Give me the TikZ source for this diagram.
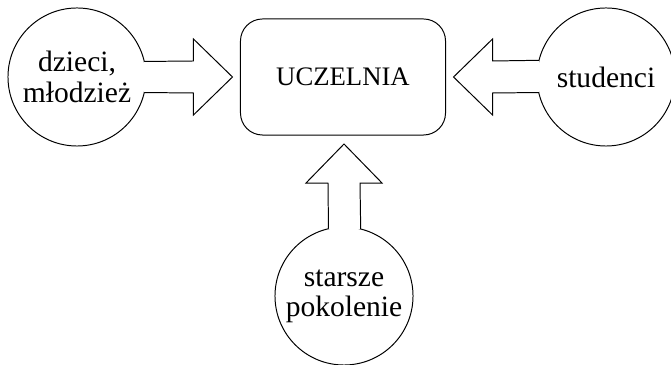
\documentclass[tikz,border=0pt]{standalone}
\usepackage{fontspec}
\setmainfont{Liberation Serif}
\usetikzlibrary{calc}
\def\headlen{39}
\def\headhalf{38}
\def\shafthalf{16}

\tikzset{
  every picture/.style={line width=.7pt},
  group/.style={draw, circle, minimum size=3.45cm, inner sep=0pt, outer sep=0pt,
    align=center, font=\fontsize{21}{21.5}\selectfont},
  school/.style={draw, rounded corners=.55cm, minimum width=5.125cm,
    minimum height=2.9cm, inner sep=0pt, outer sep=0pt,
    font=\fontsize{19}{21}\selectfont},
  blockarrow/.style={draw, fill=white, line join=miter}
}

\begin{document}
\begin{tikzpicture}[x=.025cm,y=-.025cm]
  \useasboundingbox (0,0) rectangle (671,365);

  \node[school] (uni) at (343,77) {UCZELNIA};
  \node[group] (kids) at (77,77) {dzieci,\\młodzież};
  \node[group] (stud) at (606,77) {studenci};
  \node[group] (old) at (344,296) {starsze\\pokolenie};

  \coordinate (tipL) at ($(uni.west)+(-8,0)$);
  \coordinate (tipR) at ($(uni.east)+(8,0)$);
  \coordinate (tipB) at ($(old.center |- uni.south)+(0,9)$);

  % left: dzieci -> uczelnia
  \path[blockarrow] (kids.13.4)
    -- ($(tipL)+(-\headlen,-\shafthalf)$) -- ($(tipL)+(-\headlen,-\headhalf)$)
    -- (tipL)
    -- ($(tipL)+(-\headlen,\headhalf)$) -- ($(tipL)+(-\headlen,\shafthalf)$)
    -- (kids.-13.4);
  % right: studenci -> uczelnia
  \path[blockarrow] (stud.166.6)
    -- ($(tipR)+(\headlen,-\shafthalf)$) -- ($(tipR)+(\headlen,-\headhalf)$)
    -- (tipR)
    -- ($(tipR)+(\headlen,\headhalf)$) -- ($(tipR)+(\headlen,\shafthalf)$)
    -- (stud.193.4);
  % bottom: starsze pokolenie -> uczelnia
  \path[blockarrow] (old.103.4)
    -- ($(tipB)+(-\shafthalf,\headlen)$) -- ($(tipB)+(-\headhalf,\headlen)$)
    -- (tipB)
    -- ($(tipB)+(\headhalf,\headlen)$) -- ($(tipB)+(\shafthalf,\headlen)$)
    -- (old.76.6);
\end{tikzpicture}
\end{document}
